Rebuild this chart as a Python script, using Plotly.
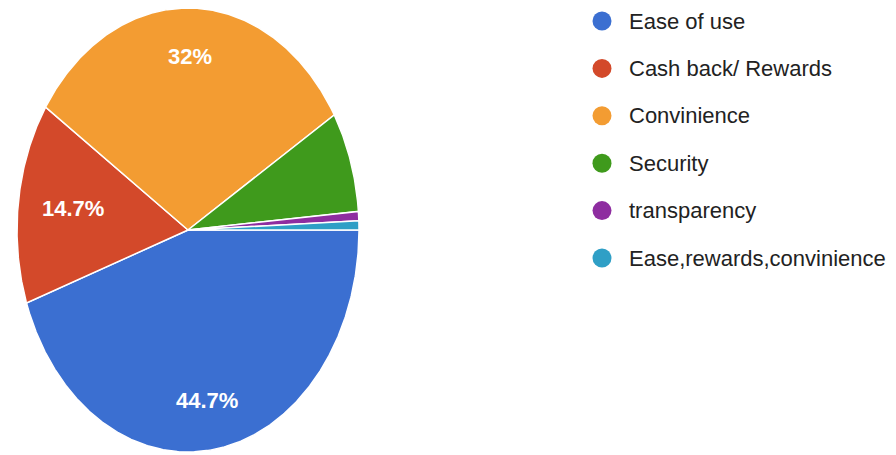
import numpy as np
import plotly.graph_objects as go

# Survey responses: reasons for preferring the payment method
categories = ["Ease of use", "Cash back/ Rewards", "Convinience",
              "Security", "transparency", "Ease,rewards,convinience"]
counts = [67, 22, 48, 11, 1, 1]
colors = ["#3b6fd1", "#d3492a", "#f39c32", "#3f9a1c", "#8e2da0", "#2f9fc6"]

# Geometry in page pixels (y grows downward)
W, H = 896, 455
CX, CY = 188, 230
RX, RY = 171, 222
START_DEG = 90          # first slice starts at 3 o'clock, going clockwise
LABEL_RX, LABEL_RY = 0.68, 0.78
LEG_X, LEG_Y0, LEG_DY = 602, 21, 47.4

total = sum(counts)
fracs = [c / total for c in counts]


def pct_text(f):
    s = f"{f * 100:.1f}"
    if s.endswith(".0"):
        s = s[:-2]
    return s + "%"


fig = go.Figure()
annotations = []

angle = np.radians(START_DEG)
for name, f, col in zip(categories, fracs, colors):
    span = 2 * np.pi * f
    th = np.linspace(angle, angle + span, max(3, int(span * 120)))
    xs = np.concatenate([[CX], CX + RX * np.sin(th), [CX]])
    ys = np.concatenate([[CY], CY - RY * np.cos(th), [CY]])
    fig.add_trace(go.Scatter(
        x=xs, y=ys, mode="lines", fill="toself", fillcolor=col,
        line=dict(color="white", width=1.5), name=name,
        showlegend=False, hoverinfo="name",
    ))
    if f >= 0.10:
        mid = angle + span / 2
        annotations.append(dict(
            x=CX + LABEL_RX * RX * np.sin(mid),
            y=CY - LABEL_RY * RY * np.cos(mid),
            text=pct_text(f), showarrow=False,
            font=dict(family="Liberation Sans, Arial, sans-serif",
                      size=22, color="white", weight="bold"),
            xanchor="center", yanchor="middle",
        ))
    angle += span

# Legend: coloured dots with category names
leg_y = [LEG_Y0 + i * LEG_DY for i in range(len(categories))]
fig.add_trace(go.Scatter(
    x=[LEG_X] * len(categories), y=leg_y, mode="markers",
    marker=dict(size=19, color=colors, line=dict(width=0)),
    showlegend=False, hoverinfo="skip",
))
for name, y in zip(categories, leg_y):
    annotations.append(dict(
        x=LEG_X + 25, y=y, text=name, showarrow=False,
        xanchor="left", yanchor="middle",
        font=dict(family="Liberation Sans, Arial, sans-serif",
                  size=22, color="#222222"),
    ))

fig.update_layout(
    width=W, height=H, margin=dict(l=0, r=0, t=0, b=0),
    paper_bgcolor="white", plot_bgcolor="white",
    xaxis=dict(range=[0, W], visible=False, fixedrange=True),
    yaxis=dict(range=[H, 0], visible=False, fixedrange=True),
    annotations=annotations,
)

fig.write_html("out.html")
